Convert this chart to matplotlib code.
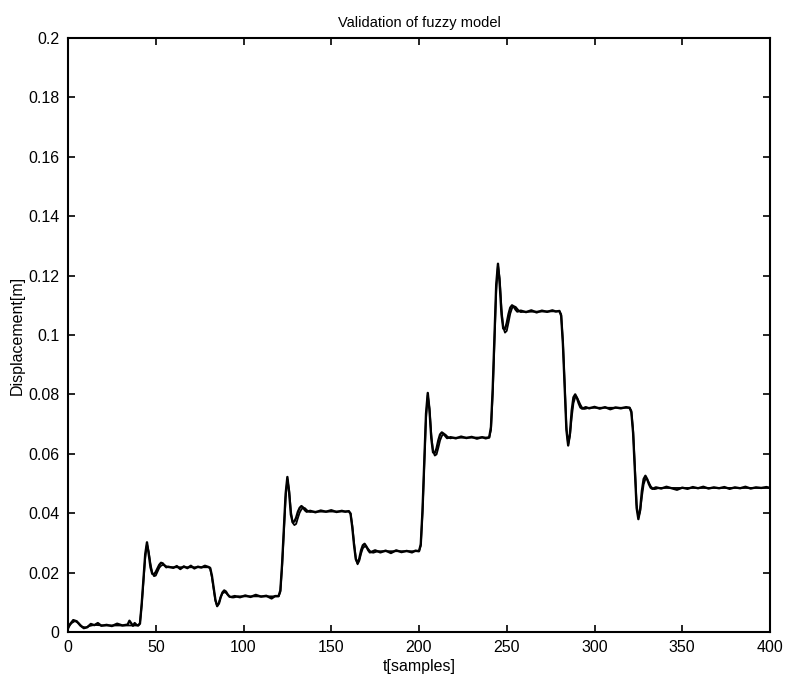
import numpy as np
import matplotlib
matplotlib.use("Agg")
import matplotlib.pyplot as plt
from matplotlib.ticker import FuncFormatter

# ── data ───────────────────────────────────────────────────────────────────────

# fuzzy model output (smooth)
t_model = [0, 2, 4, 6, 8, 10, 12, 15, 20, 40,
           41, 42, 43, 44, 45, 46, 47, 48, 49, 50, 51, 52, 53, 54, 55, 56, 57, 80,
           81, 82, 83, 84, 85, 86, 87, 88, 89, 90, 91, 92, 93, 94, 95, 96, 97, 120,
           121, 122, 123, 124, 125, 126, 127, 128, 129, 130, 131, 132, 133, 134, 135, 136, 137, 138, 139, 160,
           161, 162, 163, 164, 165, 166, 167, 168, 169, 170, 171, 172, 173, 174, 175, 176, 177, 200,
           201, 202, 203, 204, 205, 206, 207, 208, 209, 210, 211, 212, 213, 214, 215, 216, 217, 218, 219, 240,
           241, 242, 243, 244, 245, 246, 247, 248, 249, 250, 251, 252, 253, 254, 255, 256, 257, 258, 259, 280,
           281, 282, 283, 284, 285, 286, 287, 288, 289, 290, 291, 292, 293, 294, 295, 296, 297, 320,
           321, 322, 323, 324, 325, 326, 327, 328, 329, 330, 331, 332, 333, 334, 335, 336, 337, 400]
y_model = [0.0015, 0.0030, 0.0037, 0.0030, 0.0018, 0.0015, 0.0020, 0.0024, 0.0022, 0.0022,
           0.0030, 0.0090, 0.0170, 0.0250, 0.0296, 0.0270, 0.0230, 0.0200, 0.0188, 0.0190, 0.0203, 0.0216,
           0.0223, 0.0226, 0.0225, 0.0221, 0.0218, 0.0218,
           0.0214, 0.0184, 0.0145, 0.0105, 0.0086, 0.0098, 0.0118, 0.0130, 0.0134, 0.0132, 0.0126, 0.0120,
           0.0117, 0.0116, 0.0117, 0.0119, 0.0120, 0.0120,
           0.0135, 0.0220, 0.0335, 0.0450, 0.0515, 0.0478, 0.0408, 0.0368, 0.0360, 0.0364, 0.0384, 0.0402,
           0.0413, 0.0418, 0.0417, 0.0411, 0.0406, 0.0404, 0.0405, 0.0406,
           0.0400, 0.0358, 0.0300, 0.0248, 0.0228, 0.0240, 0.0264, 0.0282, 0.0288, 0.0287, 0.0280, 0.0273,
           0.0268, 0.0267, 0.0269, 0.0271, 0.0272, 0.0272,
           0.0290, 0.0400, 0.0560, 0.0720, 0.0798, 0.0752, 0.0665, 0.0608, 0.0594, 0.0598, 0.0620, 0.0645,
           0.0660, 0.0666, 0.0665, 0.0659, 0.0654, 0.0652, 0.0654, 0.0655,
           0.0680, 0.0800, 0.0980, 0.1150, 0.1236, 0.1190, 0.1090, 0.1025, 0.1008, 0.1014, 0.1042, 0.1072,
           0.1090, 0.1096, 0.1095, 0.1088, 0.1081, 0.1077, 0.1078, 0.1080,
           0.1070, 0.0980, 0.0840, 0.0690, 0.0632, 0.0660, 0.0722, 0.0770, 0.0790, 0.0790, 0.0778, 0.0765,
           0.0755, 0.0751, 0.0752, 0.0754, 0.0755, 0.0755,
           0.0745, 0.0680, 0.0560, 0.0430, 0.0386, 0.0405, 0.0455, 0.0497, 0.0515, 0.0514, 0.0503, 0.0491,
           0.0484, 0.0481, 0.0482, 0.0484, 0.0485, 0.0485]

# measured displacement (noisy)
t_meas = [0, 1, 3, 5, 7, 9, 11, 13, 15, 17, 19, 22, 25, 28, 31, 34, 35, 37, 38, 39, 40,
          41, 42, 43, 44, 45, 46, 47, 48, 49, 50, 51, 52, 53, 54, 55, 56, 57,
          60, 62, 64, 66, 68, 70, 72, 74, 76, 78, 80,
          81, 82, 83, 84, 85, 86, 87, 88, 89, 90, 91, 92, 93,
          95, 98, 101, 104, 107, 110, 113, 116, 118, 120,
          121, 122, 123, 124, 125, 126, 127, 128, 129, 130, 131, 132, 133, 134, 135, 136,
          138, 141, 144, 147, 150, 153, 156, 158, 160,
          161, 162, 163, 164, 165, 166, 167, 168, 169, 170, 171, 172, 173,
          175, 178, 181, 184, 187, 190, 193, 196, 198, 200,
          201, 202, 203, 204, 205, 206, 207, 208, 209, 210, 211, 212, 213, 214, 215, 216,
          218, 221, 224, 227, 230, 233, 236, 238, 240,
          241, 242, 243, 244, 245, 246, 247, 248, 249, 250, 251, 252, 253, 254, 255, 256,
          258, 261, 264, 267, 270, 273, 276, 278, 280,
          281, 282, 283, 284, 285, 286, 287, 288, 289, 290, 291, 292, 293,
          295, 297, 300, 303, 306, 309, 312, 315, 318, 320,
          321, 322, 323, 324, 325, 326, 327, 328, 329, 330, 331, 332, 333,
          335, 338, 341, 344, 347, 350, 353, 356, 359, 362, 365, 368, 371, 374, 377,
          380, 383, 386, 389, 392, 395, 398, 400]
y_meas = [0.0012, 0.0025, 0.0040, 0.0036, 0.0022, 0.0013, 0.0016, 0.0027, 0.0023, 0.0030, 0.0021,
          0.0024, 0.0020, 0.0028, 0.0022, 0.0025, 0.0038, 0.0021, 0.0030, 0.0024, 0.0022,
          0.0028, 0.0095, 0.0180, 0.0262, 0.0302, 0.0262, 0.0218, 0.0196, 0.0194, 0.0202, 0.0214, 0.0226,
          0.0233, 0.0231, 0.0224, 0.0218, 0.0220,
          0.0216, 0.0222, 0.0212, 0.0221, 0.0215, 0.0223, 0.0214, 0.0220, 0.0217, 0.0223, 0.0219,
          0.0216, 0.0190, 0.0148, 0.0108, 0.0088, 0.0096, 0.0117, 0.0133, 0.0140, 0.0136, 0.0126, 0.0119,
          0.0118,
          0.0121, 0.0117, 0.0123, 0.0118, 0.0125, 0.0119, 0.0122, 0.0113, 0.0121, 0.0121,
          0.0140, 0.0230, 0.0350, 0.0465, 0.0522, 0.0470, 0.0395, 0.0370, 0.0372, 0.0385, 0.0405, 0.0418,
          0.0424, 0.0419, 0.0410, 0.0405,
          0.0408, 0.0403, 0.0409, 0.0405, 0.0410, 0.0404, 0.0408, 0.0405, 0.0407,
          0.0398, 0.0352, 0.0292, 0.0245, 0.0232, 0.0248, 0.0275, 0.0292, 0.0297, 0.0288, 0.0276, 0.0268,
          0.0270,
          0.0275, 0.0268, 0.0274, 0.0266, 0.0275, 0.0269, 0.0273, 0.0268, 0.0274, 0.0272,
          0.0295, 0.0410, 0.0575, 0.0735, 0.0805, 0.0745, 0.0652, 0.0605, 0.0603, 0.0618, 0.0645, 0.0665,
          0.0672, 0.0668, 0.0660, 0.0653,
          0.0656, 0.0652, 0.0658, 0.0653, 0.0657, 0.0651, 0.0656, 0.0652, 0.0655,
          0.0690, 0.0820, 0.1000, 0.1170, 0.1240, 0.1170, 0.1070, 0.1022, 0.1020, 0.1040, 0.1070, 0.1092,
          0.1100, 0.1096, 0.1086, 0.1079,
          0.1082, 0.1077, 0.1083, 0.1076, 0.1082, 0.1078, 0.1083, 0.1079, 0.1081,
          0.1065, 0.0970, 0.0825, 0.0680, 0.0628, 0.0668, 0.0745, 0.0790, 0.0800, 0.0788, 0.0770, 0.0756,
          0.0752,
          0.0757, 0.0753, 0.0758, 0.0752, 0.0757, 0.0750, 0.0756, 0.0753, 0.0757, 0.0755,
          0.0740, 0.0670, 0.0545, 0.0418, 0.0380, 0.0412, 0.0475, 0.0515, 0.0526, 0.0515, 0.0498, 0.0486,
          0.0482,
          0.0487, 0.0483, 0.0489, 0.0484, 0.0479, 0.0486, 0.0482, 0.0488, 0.0484, 0.0489, 0.0483, 0.0487,
          0.0484, 0.0488, 0.0482,
          0.0487, 0.0484, 0.0489, 0.0483, 0.0487, 0.0485, 0.0488, 0.0485]

x_ticks = [0, 50, 100, 150, 200, 250, 300, 350, 400]
y_ticks = [0, 0.02, 0.04, 0.06, 0.08, 0.1, 0.12, 0.14, 0.16, 0.18, 0.2]

# ── plot ──────────────────────────────────────────────────────────────────────

plt.rcParams["font.family"] = ["Liberation Sans", "DejaVu Sans"]

fig = plt.figure(figsize=(7.86, 6.82), dpi=100)
ax  = fig.add_axes([68 / 786, 1 - 632 / 682, 702 / 786, 594 / 682])

ax.plot(t_meas,  y_meas,  color="black", linewidth=1.7)
ax.plot(t_model, y_model, color="black", linewidth=1.3)

ax.set_xlim(0, 400)
ax.set_ylim(0, 0.2)
ax.set_xticks(x_ticks)
ax.set_yticks(y_ticks)
ax.yaxis.set_major_formatter(FuncFormatter(lambda v, p: f"{v:g}"))
ax.tick_params(direction="in", top=True, right=True, length=5, width=1.2,
               labelsize=11.5, pad=6)
for sp in ax.spines.values():
    sp.set_linewidth(1.5)

ax.set_title("Validation of fuzzy model", fontsize=10.5, pad=8)
ax.set_xlabel("t[samples]", fontsize=11.5, labelpad=3)
ax.set_ylabel("Displacement[m]", fontsize=11.5, labelpad=3)

plt.savefig("out.png", dpi=100)
plt.close()
